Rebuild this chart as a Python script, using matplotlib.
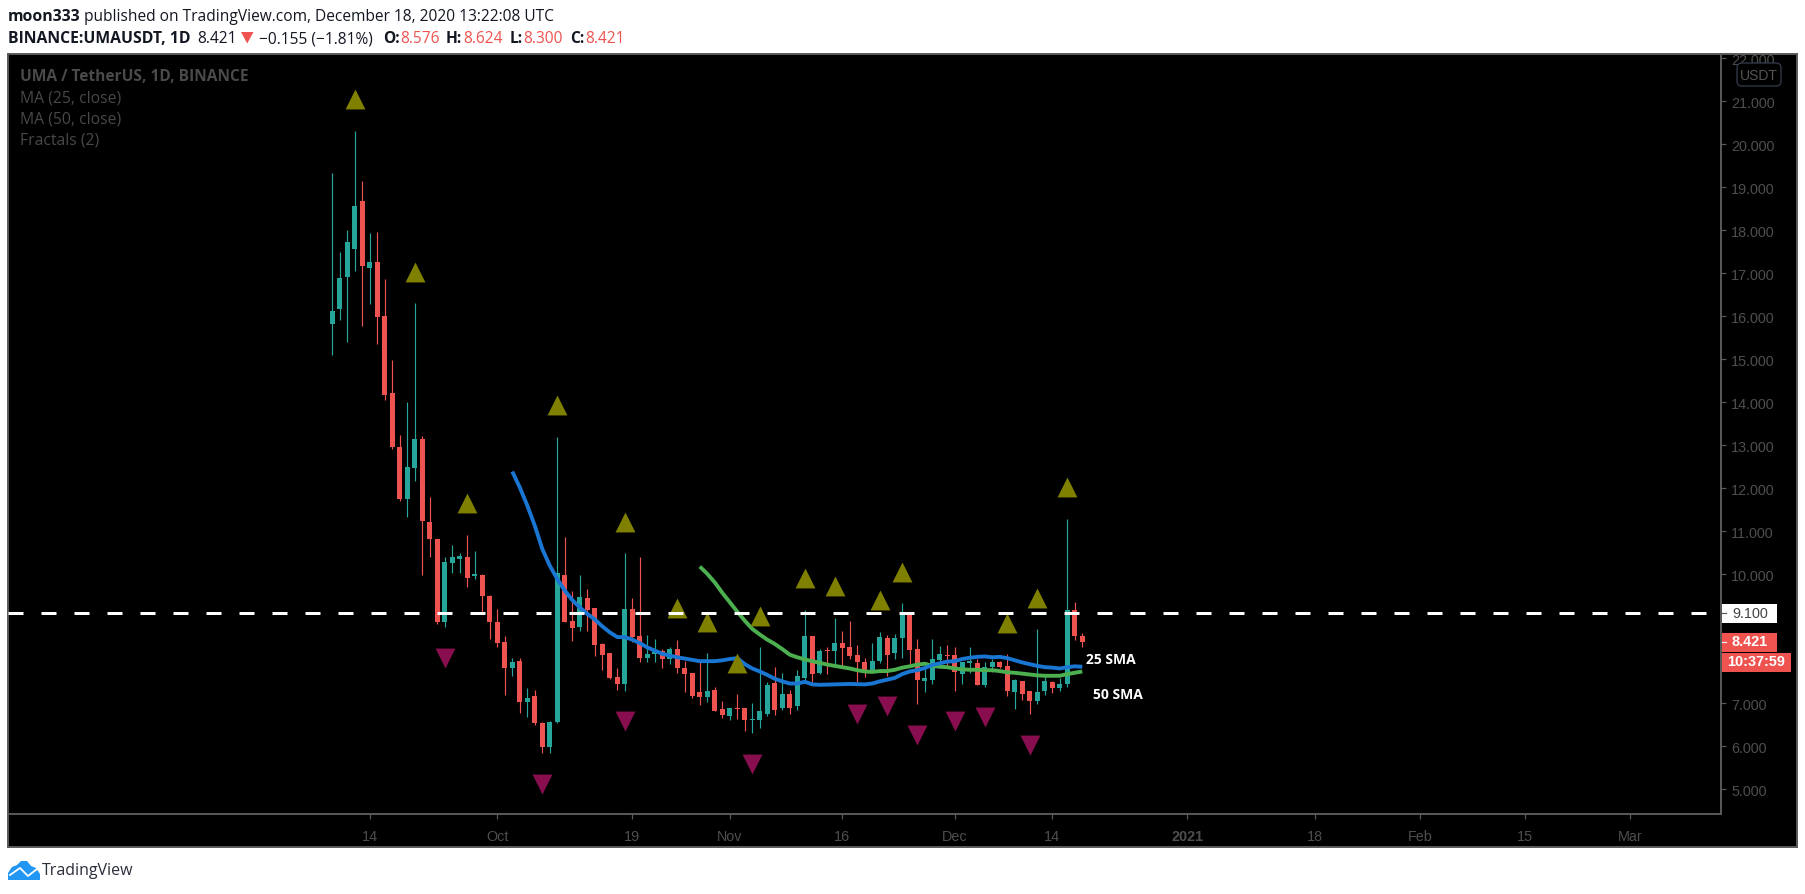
import numpy as np
import matplotlib
matplotlib.use("Agg")
import matplotlib.pyplot as plt
from matplotlib.patches import Rectangle, FancyBboxPatch, Polygon

# ---------- data ----------
opens = [15.81,16.18,16.92,17.57,18.68,17.13,17.26,16.01,14.22,12.96,11.74,12.48,13.15,11.22,10.82,8.88,10.27,10.36,10.40,9.95,
         9.98,9.50,8.88,8.43,7.81,7.98,7.04,7.17,6.55,5.99,6.57,9.98,8.91,8.78,9.45,9.22,8.38,8.16,7.61,7.45,
         9.19,8.57,8.06,8.155,8.22,8.04,8.26,7.82,7.71,7.26,7.155,7.31,6.87,6.705,6.89,6.89,6.61,6.61,6.75,7.47,
         6.89,7.22,6.94,7.59,8.57,7.71,8.24,8.22,8.40,8.31,8.12,7.96,7.75,7.98,8.52,8.17,8.52,9.10,8.26,7.52,
         7.54,8.01,8.12,8.12,7.68,7.94,7.94,7.43,7.84,7.96,7.87,7.26,7.52,7.29,7.05,7.29,7.49,7.36,7.45,9.17,8.576]
highs = [19.33,17.50,18.01,20.31,19.15,17.94,17.96,16.87,14.98,13.24,14.01,16.30,13.21,11.80,10.82,10.40,10.68,10.50,10.91,10.54,
         10.01,9.52,9.19,8.57,8.05,8.05,7.36,7.31,6.57,6.59,13.19,10.87,9.61,9.98,9.66,9.22,8.40,8.18,7.82,10.50,
         9.45,10.40,8.59,8.50,8.26,8.31,8.47,7.99,7.71,7.99,8.17,7.38,7.05,6.89,7.22,6.89,7.01,8.31,7.50,7.84,
         7.71,7.31,7.77,9.17,8.57,8.26,8.31,8.98,8.68,8.91,8.36,8.05,8.40,8.66,8.59,8.61,9.33,9.10,8.50,7.80,
         8.50,8.33,8.36,8.31,7.96,8.31,8.03,7.96,8.03,7.98,8.15,7.57,7.52,7.29,8.73,7.61,7.52,7.59,11.29,9.36,8.624]
lows = [15.09,15.92,15.41,17.06,15.78,16.29,15.36,14.06,12.92,11.70,11.34,12.16,9.99,10.41,8.84,8.78,10.04,10.04,9.71,9.90,
        9.13,8.50,8.32,7.20,7.64,6.78,6.69,6.50,5.85,5.85,6.55,8.90,8.46,8.67,8.67,8.11,7.78,7.57,7.32,7.29,
        8.43,7.97,7.95,7.95,7.83,7.92,7.71,7.27,7.13,6.95,7.02,6.81,6.66,6.61,6.64,6.36,6.31,6.43,6.71,6.73,
        6.84,6.75,6.84,7.52,7.50,7.68,7.68,7.91,7.87,8.03,7.50,7.61,7.75,7.94,7.64,8.03,8.05,7.91,6.98,7.26,
        7.45,7.84,7.82,7.29,7.45,7.71,7.43,7.38,7.73,7.82,7.17,6.87,7.08,6.75,6.98,7.19,7.24,7.29,7.38,8.47,8.300]
closes = [16.12,16.89,17.73,18.57,17.18,17.26,15.99,14.18,12.97,11.75,12.50,13.15,11.25,10.81,8.88,10.29,10.40,10.43,9.92,10.01,
          9.50,8.88,8.41,7.81,7.96,7.04,7.12,6.54,5.99,6.57,10.03,8.90,8.75,9.47,9.17,8.36,8.13,7.60,7.45,9.19,
          8.54,8.06,8.15,8.19,8.02,8.26,7.81,7.69,7.18,7.155,7.29,6.83,6.73,6.89,6.87,6.61,6.635,6.82,7.43,6.84,
          7.22,6.89,7.64,8.57,7.68,8.22,8.22,8.40,8.29,8.10,7.96,7.75,7.98,8.54,8.12,8.52,9.10,8.24,7.54,7.59,
          8.03,8.15,8.10,7.73,7.96,7.98,7.43,7.84,7.96,7.84,7.29,7.54,7.22,7.05,7.26,7.52,7.36,7.45,9.17,8.57,8.421]

ma25_idx = [24,25,26,27,28,29,30,31,32,33,34,35,36,37,38,39,40,41,42,44,46,48,49,51,52,53,54,55,56,57,58,59,60,61,62,63,64,65,67,69,71,72,73,74,75,76,77,78,79,80,81,82,83,84,85,86,87,88,89,90,91,92,93,94,95,96,97,98,99,100]
ma25 = [12.39,12.02,11.60,11.13,10.59,10.20,9.89,9.62,9.40,9.23,9.08,8.95,8.79,8.65,8.54,8.54,8.48,8.40,8.30,8.15,8.07,8.01,7.98,7.98,8.00,8.03,8.05,7.91,7.81,7.74,7.66,7.57,7.51,7.46,7.46,7.50,7.44,7.43,7.44,7.45,7.44,7.46,7.51,7.55,7.59,7.68,7.74,7.77,7.82,7.89,7.93,7.97,7.98,8.03,8.06,8.08,8.09,8.07,8.08,8.05,8.00,7.95,7.91,7.87,7.84,7.83,7.81,7.84,7.86,7.85]
ma50_idx = list(range(49, 101))
ma50 = [10.18,10.01,9.81,9.57,9.35,9.13,8.92,8.73,8.60,8.48,8.38,8.26,8.13,8.07,8.02,7.98,7.94,7.90,7.87,7.84,7.81,7.77,7.74,7.73,7.75,7.75,7.78,7.83,7.86,7.90,7.92,7.87,7.85,7.84,7.81,7.79,7.78,7.78,7.77,7.77,7.75,7.72,7.71,7.69,7.67,7.65,7.64,7.64,7.64,7.68,7.71,7.74]

frac_up_idx = [3,11,18,30,39,46,50,54,57,63,67,73,76,90,94,98]
frac_up = [21.05,17.04,11.65,13.94,11.22,9.22,8.88,7.94,9.03,9.91,9.72,9.41,10.05,8.87,9.45,12.02]
frac_dn_idx = [15,28,39,56,70,74,78,83,87,93]
frac_dn = [8.05,5.12,6.58,5.58,6.76,6.93,6.27,6.58,6.67,6.04]

level = 9.1
time_tick_idx = [5,22,40,53,68,83,96,114,131,145,159,173]
time_tick_lbl = ["14","Oct","19","Nov","16","Dec","14","2021","18","Feb","15","Mar"]
price_ticks = [5,6,7,10,11,12,13,14,15,16,17,18,19,20,21,22]

# ---------- colours ----------
UP, DOWN = "#26a69a", "#ef5350"
GRID = "#5a5a5a"
DIM = "#4e4e4e"

W, H = 1805, 895
fig = plt.figure(figsize=(W/100, H/100), dpi=100, facecolor="white")

def rect(l, t, r, b):
    return [l/W, 1-b/H, (r-l)/W, (b-t)/H]

# chart panel
L, T, R, B, FR = 8, 55, 1721, 815, 1796.5
back = fig.add_axes(rect(L, T, FR, 848))
back.set_facecolor("black"); back.set_xticks([]); back.set_yticks([])
for s in back.spines.values():
    s.set_color(GRID); s.set_linewidth(1.4)

ax = fig.add_axes(rect(L, T, R, B))
ax.patch.set_alpha(0)
x0, dx = 332.3, 7.5
ax.set_xlim((L-x0)/dx, (R-x0)/dx)
ax.set_ylim(5+(790.3-B)/43, 5+(790.3-T)/43)
for k in ("top", "left"):
    ax.spines[k].set_visible(False)
for k in ("right", "bottom"):
    ax.spines[k].set_color(GRID); ax.spines[k].set_linewidth(1.4)

idx = np.arange(len(opens))
o, h, l, c = map(np.array, (opens, highs, lows, closes))
cols = [UP if cc >= oo else DOWN for oo, cc in zip(o, c)]
ax.vlines(idx, l, h, colors=cols, linewidth=0.85, zorder=2)
ax.bar(idx, np.abs(c-o), bottom=np.minimum(o, c), width=0.667, color=cols, linewidth=0, zorder=3)

ax.plot(ma50_idx, ma50, color="#4caf50", lw=2.8, zorder=4, solid_capstyle="butt")
ax.plot(ma25_idx, ma25, color="#1976d2", lw=2.8, zorder=5, solid_capstyle="butt")
ax.scatter(frac_up_idx, frac_up, marker="^", s=205, color="#808000", linewidths=0, zorder=6)
ax.scatter(frac_dn_idx, frac_dn, marker="v", s=205, color="#880e4f", linewidths=0, zorder=6)
ax.plot(ax.get_xlim(), [level, level], color="white", lw=2.16, dashes=(5, 6),
        dash_capstyle="butt", zorder=7)

ax.yaxis.tick_right()
ax.set_yticks(price_ticks)
ax.set_yticklabels([f"{p:.3f}" for p in price_ticks], family="Liberation Sans", fontsize=10.4, color=DIM)
ax.tick_params(axis="y", length=3.6, width=0.85, color=GRID, pad=3.6)
for lbl in ax.get_yticklabels():
    lbl.set_clip_on(True); lbl.set_clip_box(back.bbox)
ax.set_xticks(time_tick_idx)
ax.set_xticklabels(time_tick_lbl, family="Liberation Sans", fontsize=10.4, color=DIM)
ax.tick_params(axis="x", length=3.6, width=0.85, color=GRID, pad=7)
for lbl, t in zip(ax.get_xticklabels(), time_tick_lbl):
    if t == "2021":
        lbl.set_fontweight("bold")

# overlay in pixel space for the page furniture
ov = fig.add_axes([0, 0, 1, 1], zorder=20)
ov.set_xlim(0, W); ov.set_ylim(H, 0); ov.axis("off"); ov.patch.set_alpha(0)

SANS = "Open Sans"
def txt(x, y, s, color="#131722", size=11.2, weight="normal", family=SANS, ha="left"):
    return ov.text(x, y, s, color=color, fontsize=size, fontweight=weight, family=family, ha=ha, va="center")

ov.add_patch(Rectangle((1721.5, 605), 55.5, 18.7, color="white", lw=0))
ov.plot([1721.5, 1726], [614, 614], color="#555555", lw=0.85)
txt(1732, 614, "9.100", color="#434343", size=10.4, family="Liberation Sans")
ov.add_patch(Rectangle((1721.5, 634), 55.5, 19, color=DOWN, lw=0))
ov.plot([1721.5, 1726], [643, 643], color="white", lw=0.85)
txt(1732, 642.5, "8.421", color="white", size=10.4, weight="bold", family="Liberation Sans")
ov.add_patch(Rectangle((1722, 654), 69, 19, color=DOWN, lw=0))
txt(1727, 662.5, "10:37:59", color="white", size=10.4, weight="bold", family="Liberation Sans")
ov.add_patch(FancyBboxPatch((1740, 67), 38, 17, boxstyle="round,pad=3,rounding_size=5",
                            fc="black", ec="#363c4e", lw=0.9))
txt(1758.8, 75.5, "USDT", color="#555555", size=10, family="Liberation Sans", ha="center")

# legend in chart
txt(19.5, 77, "UMA / TetherUS, 1D, BINANCE", color="#4a4a4a", size=11.2, weight="bold")
txt(19.5, 98, "MA (25, close)", color="#484848", size=11.3)
txt(19.5, 119, "MA (50, close)", color="#484848", size=11.3)
txt(19.5, 140, "Fractals (2)", color="#484848", size=11.3)

txt(1086, 660.5, "25 SMA", color="white", size=10, weight="bold")
txt(1092.7, 695, "50 SMA", color="white", size=10, weight="bold")

# header
txt(8, 17, "moon333", weight="bold", size=11.3)
txt(84, 17, "published on TradingView.com, December 18, 2020 13:22:08 UTC")
txt(8, 39, "BINANCE:UMAUSDT, 1D", weight="bold", size=11.3)
txt(197, 39, "8.421")
ov.add_patch(Polygon([(241, 33), (253.5, 33), (247.2, 44.5)], closed=True, color=DOWN, lw=0))
txt(259, 39, "\u22120.155 (\u22121.81%)")
for xl, lab, xv, val in [(383, "O:", 400, "8.576"), (446, "H:", 463, "8.624"),
                         (510, "L:", 523, "8.300"), (570, "C:", 585, "8.421")]:
    txt(xl, 39, lab, weight="bold")
    txt(xv, 39, val, color=DOWN)

# TradingView logo
BL = "#2196f3"
ov.add_patch(Polygon([(8, 881), (8, 874), (12, 868), (17, 866), (21, 862), (27, 862), (31, 867),
                      (36, 869), (40, 875), (40, 881)], closed=True, color=BL, lw=0))
ov.plot([10, 20, 28, 37], [876, 869, 877, 870], color="white", lw=1.3, zorder=5)
txt(42, 871, "TradingView", color="#2a2e39", size=11.5)

fig.savefig("out.png", dpi=100, facecolor="white")
